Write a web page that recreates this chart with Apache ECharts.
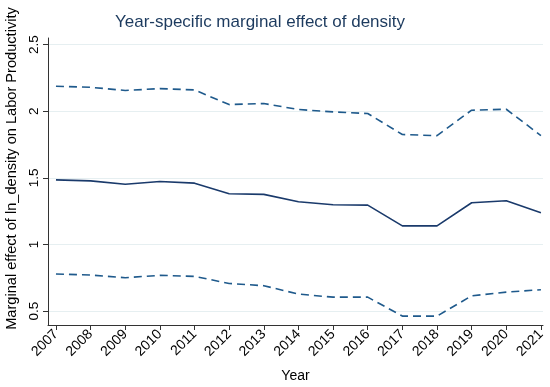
<!DOCTYPE html>
<html><head><meta charset="utf-8">
<script src="https://cdn.jsdelivr.net/npm/echarts@6/dist/echarts.min.js"></script>
<style>html,body{margin:0;padding:0;background:#fff}#c{width:550px;height:387px}</style>
</head><body><div id="c"></div>
<script>
const years = [2007,2008,2009,2010,2011,2012,2013,2014,2015,2016,2017,2018,2019,2020,2021];
const effect = [1.485,1.477,1.452,1.472,1.460,1.381,1.376,1.320,1.298,1.295,1.139,1.139,1.313,1.328,1.237];
const upper = [2.188,2.180,2.156,2.170,2.160,2.050,2.058,2.013,1.995,1.983,1.825,1.817,2.008,2.015,1.817];
const lower = [0.778,0.770,0.750,0.768,0.760,0.707,0.690,0.627,0.604,0.604,0.462,0.462,0.614,0.642,0.660];
const yTicks = [0.5,1,1.5,2,2.5];
const yTickLabels = ['0.5','1','1.5','2','2.5'];

const font = 'Liberation Sans, Arial, sans-serif';
const chart = echarts.init(document.getElementById('c'));
const pairs = a => years.map((y,i)=>[y,a[i]]);
chart.setOption({
  animation:false,
  backgroundColor:'#fff',
  title:{text:'Year-specific marginal effect of density',left:255,textAlign:'center',top:9,
    textStyle:{fontFamily:font,fontSize:17,fontWeight:'normal',color:'#1c3a5e'}},
  grid:{left:48,top:38,right:7,bottom:62,containLabel:false,outerBoundsMode:'none'},
  xAxis:{type:'value',min:2006.77,max:2021.06,
    name:'Year',nameLocation:'middle',nameGap:44,
    nameTextStyle:{fontFamily:font,fontSize:14,color:'#000'},
    axisLine:{show:true,lineStyle:{color:'#333',width:1}},
    axisTick:{show:true,length:5,lineStyle:{color:'#333'},customValues:years},
    axisLabel:{rotate:45,fontFamily:font,fontSize:14,color:'#000',margin:7,customValues:years,
      hideOverlap:false,formatter:v=>String(Math.round(v))},
    splitLine:{show:false}},
  yAxis:{type:'value',min:0.395,max:2.55,
    name:'Marginal effect of ln_density on Labor Productivity',nameLocation:'middle',nameGap:21,
    nameTextStyle:{fontFamily:font,fontSize:14.6,color:'#000',padding:[0,0,0,26]},
    axisLine:{show:true,lineStyle:{color:'#333',width:1}},
    axisTick:{show:true,length:5,lineStyle:{color:'#333'},customValues:yTicks},
    axisLabel:{rotate:90,fontFamily:font,fontSize:13.5,color:'#000',margin:7,customValues:yTicks,
      formatter:v=>yTickLabels[yTicks.indexOf(Math.round(v*10)/10)] ?? ''},
    splitLine:{show:true,lineStyle:{color:'#e6eff1',width:1.2}}},
  series:[
    {type:'line',data:pairs(upper),symbol:'none',lineStyle:{color:'#1f5a8c',width:1.6,type:[8,5]}},
    {type:'line',data:pairs(effect),symbol:'none',lineStyle:{color:'#1a3a6b',width:1.6}},
    {type:'line',data:pairs(lower),symbol:'none',lineStyle:{color:'#1f5a8c',width:1.6,type:[8,5]}}
  ]
});
</script></body></html>
